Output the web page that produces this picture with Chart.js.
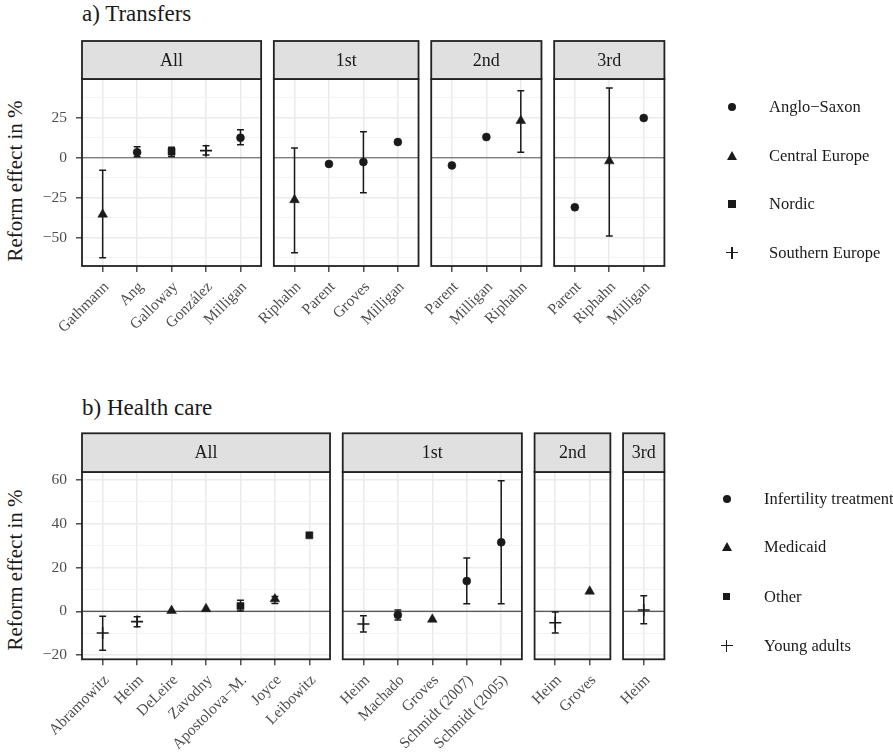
<!DOCTYPE html>
<html>
<head>
<meta charset="utf-8">
<script src="https://cdn.jsdelivr.net/npm/chart.js@4.4.0/dist/chart.umd.min.js"></script>
<style>
  body { margin: 0; background: #fff; }
  #page { position: relative; width: 893px; height: 753px; overflow: hidden; font-family: "Liberation Serif", "Times New Roman", serif; color: #1a1a1a; }
  canvas.facet { position: absolute; left: 0; }
  .title { position: absolute; left: 82px; font-size: 23px; line-height: 1; white-space: nowrap; }
  .ytitle { position: absolute; font-size: 21px; line-height: 1; white-space: nowrap; transform: translate(-50%, -50%) rotate(-90deg); }
  .ltext { position: absolute; font-size: 16.5px; line-height: 1; white-space: nowrap; transform: translateY(-50%); }
  .sym { position: absolute; }
</style>
</head>
<body>
<div id="page"></div>
<script>
// ---- data ----
const facetNames = ['All', '1st', '2nd', '3rd'];

// a) Transfers
const transferStudies = [
  ['Gathmann', 'Ang', 'Galloway', 'González', 'Milligan'],
  ['Riphahn', 'Parent', 'Groves', 'Milligan'],
  ['Parent', 'Milligan', 'Riphahn'],
  ['Parent', 'Riphahn', 'Milligan']
];
const transferEffect = [
  [-35.4, 3.4, 3.8, 4.4, 12.5],
  [-26.4, -3.9, -2.7, 9.8],
  [-4.8, 12.9, 23.1],
  [-31.0, -2.1, 24.8]
];
const transferLow = [
  [-62.5, 0.6, 0.8, 1.7, 8.1],
  [-59.4, null, -21.9, null],
  [null, null, 3.4],
  [null, -48.9, null]
];
const transferHigh = [
  [-7.9, 6.9, 6.6, 7.5, 17.5],
  [6.1, null, 16.3, null],
  [null, null, 41.9],
  [null, 43.6, null]
];
const transferRegion = [
  ['Central Europe', 'Anglo−Saxon', 'Nordic', 'Southern Europe', 'Anglo−Saxon'],
  ['Central Europe', 'Anglo−Saxon', 'Anglo−Saxon', 'Anglo−Saxon'],
  ['Anglo−Saxon', 'Anglo−Saxon', 'Central Europe'],
  ['Anglo−Saxon', 'Central Europe', 'Anglo−Saxon']
];
const transferGroups = ['Anglo−Saxon', 'Central Europe', 'Nordic', 'Southern Europe'];
const transferTicks = [-50, -25, 0, 25];
const transferMinor = [-62.5, -37.5, -12.5, 12.5, 37.5];
const transferRange = [-67.7, 49.2];

// b) Health care
const healthStudies = [
  ['Abramowitz', 'Heim', 'DeLeire', 'Zavodny', 'Apostolova−M.', 'Joyce', 'Leibowitz'],
  ['Heim', 'Machado', 'Groves', 'Schmidt (2007)', 'Schmidt (2005)'],
  ['Heim', 'Groves'],
  ['Heim']
];
const healthEffect = [
  [-9.9, -4.7, 0.3, 1.1, 2.4, 5.6, 34.7],
  [-5.8, -1.7, -3.7, 13.8, 31.5],
  [-5.2, 9.1],
  [0.6]
];
const healthLow = [
  [-17.8, -7.0, null, null, 0.1, 3.6, null],
  [-9.4, -4.0, null, 3.5, 3.5],
  [-9.9, null],
  [-5.7]
];
const healthHigh = [
  [-2.3, -2.5, null, null, 5.0, 6.8, null],
  [-2.0, 0.6, null, 24.3, 59.6],
  [-0.3, null],
  [7.1]
];
const healthType = [
  ['Young adults', 'Young adults', 'Medicaid', 'Medicaid', 'Other', 'Medicaid', 'Other'],
  ['Young adults', 'Infertility treatment', 'Medicaid', 'Infertility treatment', 'Infertility treatment'],
  ['Young adults', 'Medicaid'],
  ['Young adults']
];
const healthGroups = ['Infertility treatment', 'Medicaid', 'Other', 'Young adults'];
const healthTicks = [-20, 0, 20, 40, 60];
const healthMinor = [-10, 10, 30, 50];
const healthRange = [-21.9, 63.6];

// ---- layout / style ----
const W = 893;
const UNIT = 34.45, GAP = 12.7, LEFT0 = 82;
const INK = '#1a1a1a';
const SHAPES = ['circle', 'triangle', 'rect', 'cross'];
const RADII = [4, 5.6, 5, 6];
const page = document.getElementById('page');

function fmt(v) { return String(v).replace('-', '\u2212'); }

function facetChart(p, k, x0, x1) {
  const studies = p.studies[k], effect = p.effect[k], low = p.low[k], high = p.high[k], grp = p.group[k];
  const first = k === 0;
  const yW = first ? 42 : 0;
  const xH = 90;
  const canvas = document.createElement('canvas');
  canvas.className = 'facet';
  canvas.width = W; canvas.height = p.height;
  canvas.style.top = p.top + 'px';
  page.appendChild(canvas);
  const shapeIdx = i => p.groups.indexOf(grp[i]);

  const decor = {
    id: 'decor' + k,
    beforeDatasetsDraw(chart) {
      const { ctx, chartArea: a, scales: { x, y } } = chart;
      ctx.save();
      const y0 = y.getPixelForValue(0);
      ctx.strokeStyle = p.zeroColor; ctx.lineWidth = 1.1;
      ctx.beginPath(); ctx.moveTo(a.left, y0); ctx.lineTo(a.right, y0); ctx.stroke();
      ctx.strokeStyle = INK; ctx.lineWidth = 1.5;
      low.forEach((lo, i) => {
        const hi = high[i];
        if (lo == null || hi == null) return;
        const xc = x.getPixelForValue(i), xl = x.getPixelForValue(i - 0.1), xr = x.getPixelForValue(i + 0.1);
        const yl = y.getPixelForValue(lo), yh = y.getPixelForValue(hi);
        ctx.beginPath();
        ctx.moveTo(xc, yl); ctx.lineTo(xc, yh);
        ctx.moveTo(xl, yl); ctx.lineTo(xr, yl);
        ctx.moveTo(xl, yh); ctx.lineTo(xr, yh);
        ctx.stroke();
      });
      ctx.restore();
    },
    afterDraw(chart) {
      const { ctx, chartArea: a } = chart;
      const sh = p.plotTop - p.stripTop;
      ctx.save();
      ctx.lineWidth = 1.8; ctx.strokeStyle = '#222';
      ctx.strokeRect(a.left, a.top, a.right - a.left, a.bottom - a.top);
      ctx.fillStyle = '#e0e0e0';
      ctx.fillRect(a.left, a.top - sh, a.right - a.left, sh);
      ctx.strokeRect(a.left, a.top - sh, a.right - a.left, sh);
      ctx.fillStyle = INK;
      ctx.font = '18px "Liberation Serif"';
      ctx.textAlign = 'center'; ctx.textBaseline = 'middle';
      ctx.fillText(facetNames[k], (a.left + a.right) / 2, a.top - sh / 2 + 1);
      ctx.restore();
    }
  };

  const yTicks = p.ticks.map(v => ({ value: v })).concat(p.minor.map(v => ({ value: v, minor: true })))
    .sort((a, b) => a.value - b.value);
  const isMinor = c => c.tick && c.tick.minor;

  new Chart(canvas, {
    type: 'scatter',
    data: {
      datasets: [{
        data: effect.map((v, i) => ({ x: i, y: v })),
        pointStyle: c => SHAPES[shapeIdx(c.dataIndex)],
        pointRadius: c => RADII[shapeIdx(c.dataIndex)],
        pointBorderWidth: c => shapeIdx(c.dataIndex) === 3 ? 1.6 : 0.5,
        backgroundColor: INK,
        borderColor: INK
      }]
    },
    options: {
      responsive: false,
      animation: false,
      devicePixelRatio: 1,
      events: [],
      layout: { padding: { left: x0 - yW, right: W - x1, top: p.plotTop, bottom: p.height - p.plotBottom - xH } },
      plugins: { legend: { display: false }, tooltip: { enabled: false } },
      scales: {
        x: {
          type: 'linear',
          min: -0.6, max: studies.length - 0.4,
          afterBuildTicks: s => { s.ticks = studies.map((_, i) => ({ value: i })); },
          afterFit: s => { s.height = xH; },
          border: { display: false },
          grid: { color: '#ebebeb', lineWidth: 1.6, tickColor: '#333', tickWidth: 1.3, tickLength: 6 },
          ticks: {
            autoSkip: false, minRotation: 45, maxRotation: 45, padding: 6, labelOffset: 4,
            color: '#4d4d4d', font: { family: 'Liberation Serif', size: 15.5 },
            callback: (v, i) => studies[i]
          }
        },
        y: {
          min: p.range[0], max: p.range[1],
          afterBuildTicks: s => { s.ticks = yTicks.map(t => Object.assign({}, t)); },
          afterFit: s => { s.width = yW; },
          border: { display: false },
          grid: {
            color: c => isMinor(c) ? '#f3f3f3' : '#ebebeb',
            lineWidth: c => isMinor(c) ? 1 : 1.6,
            drawTicks: first,
            tickColor: c => isMinor(c) ? 'rgba(0,0,0,0)' : '#333',
            tickWidth: 1.3, tickLength: 6
          },
          ticks: {
            display: first, padding: 9,
            color: '#4d4d4d', font: { family: 'Liberation Serif', size: 15.5 },
            callback: (v, i, ts) => ts[i].minor ? '' : fmt(v)
          }
        }
      }
    },
    plugins: [decor]
  });
}

function panel(p) {
  const t = document.createElement('div');
  t.className = 'title'; t.textContent = p.title; t.style.top = p.titleTop + 'px';
  page.appendChild(t);
  const yt = document.createElement('div');
  yt.className = 'ytitle'; yt.textContent = 'Reform effect in %';
  yt.style.left = '15px'; yt.style.top = p.yTitleY + 'px';
  page.appendChild(yt);

  let x0 = LEFT0;
  p.studies.forEach((s, k) => {
    const x1 = x0 + (s.length + 0.2) * UNIT;
    facetChart(p, k, x0, x1);
    x0 = x1 + GAP;
  });

  p.groups.forEach((g, i) => {
    const cy = p.legendY[i];
    const sym = document.createElement('div');
    sym.className = 'sym';
    const sx = p.legendSymX;
    if (i === 0) Object.assign(sym.style, { left: (sx - 4) + 'px', top: (cy - 4) + 'px', width: '8px', height: '8px', borderRadius: '50%', background: INK });
    if (i === 1) Object.assign(sym.style, { left: (sx - 5) + 'px', top: (cy - 5) + 'px', width: 0, height: 0, borderLeft: '5px solid transparent', borderRight: '5px solid transparent', borderBottom: '9px solid ' + INK });
    if (i === 2) Object.assign(sym.style, { left: (sx - 3.6) + 'px', top: (cy - 3.6) + 'px', width: '7.2px', height: '7.2px', background: INK });
    if (i === 3) {
      Object.assign(sym.style, { left: (sx - 6) + 'px', top: (cy - 6) + 'px', width: '12px', height: '12px' });
      sym.innerHTML = '<div style="position:absolute;left:0;top:5.2px;width:12px;height:1.6px;background:' + INK + '"></div>' +
        '<div style="position:absolute;left:5.2px;top:0;width:1.6px;height:12px;background:' + INK + '"></div>';
    }
    page.appendChild(sym);
    const lt = document.createElement('div');
    lt.className = 'ltext'; lt.textContent = g;
    lt.style.left = p.legendTextX + 'px'; lt.style.top = cy + 'px';
    page.appendChild(lt);
  });
}

panel({
  title: 'a) Transfers', titleTop: 2, yTitleY: 181, zeroColor: '#5a5a5a',
  top: 0, height: 380, stripTop: 41, plotTop: 79, plotBottom: 266,
  studies: transferStudies, effect: transferEffect, low: transferLow, high: transferHigh,
  group: transferRegion, groups: transferGroups,
  ticks: transferTicks, minor: transferMinor, range: transferRange,
  legendSymX: 732, legendTextX: 769, legendY: [106.7, 155.7, 204, 252.7]
});

panel({
  title: 'b) Health care', titleTop: 395.5, yTitleY: 570, zeroColor: '#262626',
  top: 380, height: 373, stripTop: 53.3, plotTop: 92, plotBottom: 279.3,
  studies: healthStudies, effect: healthEffect, low: healthLow, high: healthHigh,
  group: healthType, groups: healthGroups,
  ticks: healthTicks, minor: healthMinor, range: healthRange,
  legendSymX: 726.7, legendTextX: 764, legendY: [499.3, 547.3, 596.7, 645.7]
});
</script>
</body>
</html>
